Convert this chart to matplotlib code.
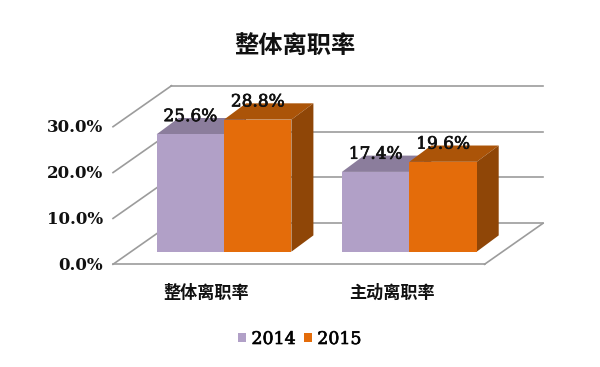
import matplotlib
matplotlib.use("Agg")
import matplotlib.pyplot as plt
import matplotlib.patheffects as pe
from matplotlib.patches import Polygon

categories = ['整体离职率', '主动离职率']
years = ['2014', '2015']
v2014 = [25.6, 17.4]
v2015 = [28.8, 19.6]
ticks = [0, 10, 20, 30]
title = '整体离职率'

CJK = ['Noto Sans CJK SC', 'DejaVu Sans']
NUM = 'DejaVu Serif'
INK = '#111111'

W, H = 600, 367
PX_X = 185.3    # pixels per category
PX_Y = 4.586    # pixels per percent

fig = plt.figure(figsize=(W / 100, H / 100), dpi=100)
ax = fig.add_axes([0, 0, 1, 1])
ax.set_xlim(-224 / PX_X, (W - 224) / PX_X)
ax.set_ylim(-(H - 251.7) / PX_Y, 251.7 / PX_Y)
ax.axis('off')

bw = 67.4 / PX_X
# bar depth
bdx, bdy = 22 / PX_X, 16.3 / PX_Y
# floor
fl, fr = (113 - 224) / PX_X, (484.5 - 224) / PX_X
fy = -12.6 / PX_Y
ddx, ddy = 58.5 / PX_X, 41 / PX_Y

grid = '#9c9c9c'
heavy = [pe.withStroke(linewidth=0.5, foreground=INK)]
for t in ticks:
    ax.plot([fl + ddx, fr + ddx], [t + fy + ddy] * 2, color=grid, lw=1.2, zorder=1)
    ax.plot([fl, fl + ddx], [t + fy, t + fy + ddy], color=grid, lw=1.2, zorder=1)
    ax.text(fl - 0.055, t + fy - 0.2, '%.1f%%' % t, family=NUM, fontsize=12,
            weight='bold', color=INK, ha='right', va='center')
ax.plot([fl, fr], [fy, fy], color=grid, lw=1.2, zorder=1)
ax.plot([fr, fr + ddx], [fy, fy + ddy], color=grid, lw=1.2, zorder=1)

series = [(v2014, -bw, '#b1a0c7', '#8b7d9c', '#6f6380'),
          (v2015, 0, '#e46c0a', '#ab5408', '#8f4607')]
handles = []
for vals, off, front, top, side in series:
    for i, v in enumerate(vals):
        x0 = i + off
        x1 = x0 + bw
        ax.add_patch(Polygon([(x0, v), (x1, v), (x1 + bdx, v + bdy), (x0 + bdx, v + bdy)],
                             fc=top, ec='none', zorder=2))
        ax.add_patch(Polygon([(x1, 0), (x1 + bdx, bdy), (x1 + bdx, v + bdy), (x1, v)],
                             fc=side, ec='none', zorder=2))
        ax.text(x0 + bw / 2, v + bdy + 0.3, '%.1f%%' % v, family=NUM, fontsize=12.2,
                color=INK, ha='center', va='center', zorder=5, path_effects=heavy)
    b = ax.bar([i + off + bw / 2 for i in range(len(vals))], vals, bw,
               color=front, zorder=3)
    handles.append(b)

for i, c in enumerate(categories):
    ax.text(i - 0.094, -9.0, c, family=CJK, fontsize=12.3, weight='bold',
            color=INK, ha='center', va='center')

ax.text((295 - 224) / PX_X, (251.7 - 46) / PX_Y, title, family=CJK, fontsize=17.5,
        weight='bold', color=INK, ha='center', va='center')

leg = fig.legend(handles, years, loc='center', bbox_to_anchor=(300 / W, 1 - 339.5 / H), ncol=2,
                 frameon=False, handlelength=0.45, handleheight=0.45, handletextpad=0.3,
                 columnspacing=0.5, prop={'family': NUM, 'size': 12.5})
for txt in leg.get_texts():
    txt.set_path_effects(heavy)

fig.savefig('out.png', dpi=100, facecolor='white')
